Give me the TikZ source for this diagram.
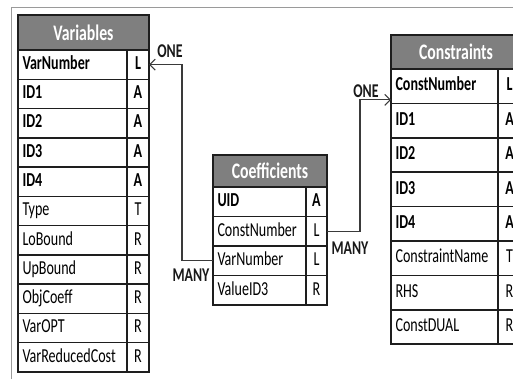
\documentclass[tikz,border=0pt]{standalone}
\usepackage{fontspec}
\setmainfont{Carlito}[FakeStretch=0.71]
\usetikzlibrary{arrows.meta}
\definecolor{hdrgray}{HTML}{7F7F7F}
\definecolor{framegray}{HTML}{9A9A9A}
\definecolor{linek}{HTML}{1E1E1E}
\definecolor{connk}{HTML}{3A3A3A}
\tikzset{
  cellbox/.style={draw=linek, line width=1.5bp, inner sep=0pt, outer sep=0pt,
    anchor=north west, text height=13bp, text depth=3.5bp,
    font=\fontsize{19.8bp}{22bp}\selectfont},
  namecell/.style 2 args={cellbox, minimum width=#1, minimum height=#2,
    inner xsep=4.5bp, text width=#1-9bp, align=left},
  typecell/.style 2 args={cellbox, minimum width=#1, minimum height=#2, align=center},
  hdrbox/.style={draw=linek, line width=1.7bp, fill=hdrgray, text=white,
    inner sep=0pt, outer sep=0pt, anchor=north west,
    font=\fontsize{22.2bp}{24bp}\selectfont\bfseries},
  conn/.style={draw=connk, line width=1.1bp},
  relarrow/.style={conn, -{Straight Barb[length=5.5bp, width=11bp, line width=1.1bp]}},
  rellabel/.style={font=\fontsize{19.5bp}{22bp}\selectfont\bfseries, inner sep=0pt, text=black!90},
}
\begin{document}
\begin{tikzpicture}[x=1bp, y=-1bp]
\useasboundingbox (0,0) rectangle (513,379);
\clip (0,0) rectangle (513,379);
\fill[white] (0,0) rectangle (513,379);
% outer frame
\draw[framegray, line width=0.9bp] (11.5,379) -- (11.5,7.5) -- (513,7.5);

% Variables table
\node[hdrbox, minimum width=131bp, minimum height=35bp] (varH) at (18,15) {Variables};
\foreach \n/\t/\f [count=\i from 0] in {VarNumber/L/\bfseries, ID1/A/\bfseries, ID2/A/\bfseries,
  ID3/A/\bfseries, ID4/A/\bfseries, Type/T/\mdseries, LoBound/R/\mdseries, UpBound/R/\mdseries,
  ObjCoeff/R/\mdseries, VarOPT/R/\mdseries, VarReducedCost/R/\mdseries}{
  \pgfmathsetmacro\yy{50+\i*29.27}
  \node[namecell={109bp}{29.27bp}] (var\i) at (18,\yy) {\f\n};
  \node[typecell={22bp}{29.27bp}] (varT\i) at (127,\yy) {\f\t};
}

% Coefficients table
\node[hdrbox, minimum width=114bp, minimum height=32bp] (coefH) at (213,155) {Coefficients};
\foreach \n/\t/\f [count=\i from 0] in {UID/A/\bfseries, ConstNumber/L/\mdseries,
  VarNumber/L/\mdseries, ValueID3/R/\mdseries}{
  \pgfmathsetmacro\yy{187+\i*29.5}
  \node[namecell={93bp}{29.5bp}] (coef\i) at (213,\yy) {\f\n};
  \node[typecell={21bp}{29.5bp}] (coefT\i) at (306,\yy) {\f\t};
}

% Constraints table
\node[hdrbox, minimum width=130bp, minimum height=34bp] (conH) at (391,35) {Constraints};
\foreach \n/\t/\f [count=\i from 0] in {ConstNumber/L/\bfseries, ID1/A/\bfseries, ID2/A/\bfseries,
  ID3/A/\bfseries, ID4/A/\bfseries, ConstraintName/T/\mdseries, RHS/R/\mdseries,
  ConstDUAL/R/\mdseries}{
  \pgfmathsetmacro\yy{69+\i*34.4}
  \node[namecell={107bp}{34.4bp}] (con\i) at (391,\yy) {\f\n};
  \node[typecell={23bp}{34.4bp}] (conT\i) at (498,\yy) {\f\t};
}

% relationships
\draw[relarrow] (coef2.west) -- ++(-31,0) |- (varT0.east);
\draw[relarrow] (coefT1.east) -- ++(33,0) |- ([yshift=3.5bp]con0.south west);

\node[rellabel] (one1) at (170,51) {ONE};
\node[rellabel] (many1) at (191,275) {MANY};
\node[rellabel] (one2) at (366,91) {ONE};
\node[rellabel] (many2) at (350,248) {MANY};
\end{tikzpicture}
\end{document}
